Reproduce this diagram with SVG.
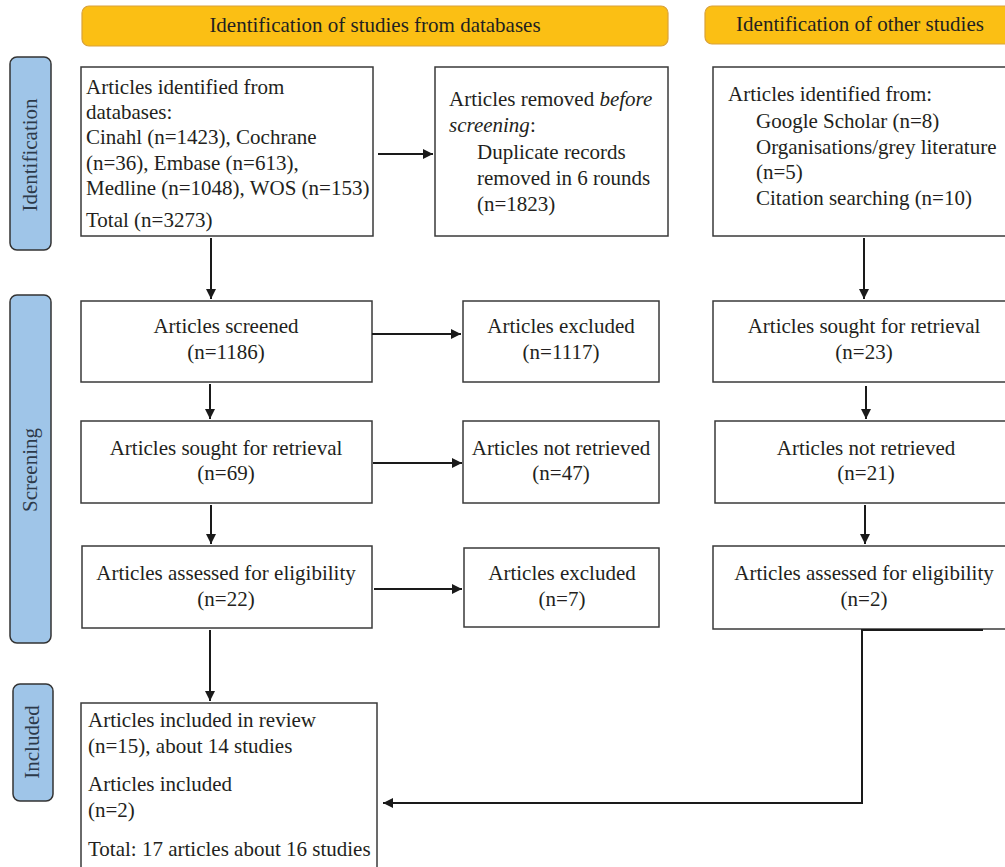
<svg xmlns="http://www.w3.org/2000/svg" width="1005" height="867" viewBox="0 0 1005 867">
<defs>
<marker id="ah" viewBox="0 0 10 10" refX="10" refY="5" markerWidth="10" markerHeight="10" markerUnits="userSpaceOnUse" orient="auto">
<path d="M0,0 L10,5 L0,10 z" fill="#1a1a1a"/>
</marker>
<style>
text{font-family:"Liberation Serif","Times New Roman",serif;font-size:21px;fill:#231f20}
.box{fill:#fff;stroke:#3a3a3a;stroke-width:1.5}
.hdr{fill:#fbbf14;stroke:#d9a23a;stroke-width:1.2}
.side{fill:#9fc5e8;stroke:#333;stroke-width:1.5}
.st{fill:#2d3a4a;text-anchor:middle}
.c{text-anchor:middle}
.conn{stroke:#1a1a1a;stroke-width:2;fill:none}
</style>
</defs>
<g id="hdr-db"><rect class="hdr" x="82" y="6" width="586" height="40" rx="7"/><text class="c" x="375" y="32">Identification of studies from databases</text></g>
<g id="hdr-other"><rect class="hdr" x="705" y="6" width="310" height="38" rx="7"/><text class="c" x="860" y="31">Identification of other studies</text></g>
<g id="side-id"><rect class="side" x="10" y="57" width="41" height="193" rx="7"/><text class="st" transform="translate(37,155) rotate(-90)">Identification</text></g>
<g id="side-scr"><rect class="side" x="10" y="295" width="41" height="348" rx="7"/><text class="st" transform="translate(37,470) rotate(-90)">Screening</text></g>
<g id="side-inc"><rect class="side" x="13" y="684" width="40" height="117" rx="7"/><text class="st" transform="translate(39,742) rotate(-90)">Included</text></g>

<g id="n-db"><rect class="box" x="81" y="67" width="292" height="169"/>
<text x="86" y="94">Articles identified from</text>
<text x="86" y="119">databases:</text>
<text x="86" y="144">Cinahl (n=1423), Cochrane</text>
<text x="86" y="170">(n=36), Embase (n=613),</text>
<text x="86" y="195">Medline (n=1048), WOS (n=153)</text>
<text x="86" y="227">Total (n=3273)</text></g>
<g id="n-removed"><rect class="box" x="435" y="67" width="233" height="169"/>
<text x="449" y="106">Articles removed <tspan font-style="italic">before</tspan></text>
<text x="449" y="132"><tspan font-style="italic">screening</tspan>:</text>
<text x="477" y="159">Duplicate records</text>
<text x="477" y="185">removed in 6 rounds</text>
<text x="477" y="211">(n=1823)</text></g>
<g id="n-other"><rect class="box" x="713" y="67" width="300" height="169"/>
<text x="728" y="101">Articles identified from:</text>
<text x="756" y="128">Google Scholar (n=8)</text>
<text x="756" y="154">Organisations/grey literature</text>
<text x="756" y="179">(n=5)</text>
<text x="756" y="205">Citation searching (n=10)</text></g>

<g id="n-screened"><rect class="box" x="81" y="301" width="291" height="81"/><text class="c" x="226" y="333">Articles screened</text><text class="c" x="226" y="359">(n=1186)</text></g>
<g id="n-excl1"><rect class="box" x="463" y="301" width="196" height="81"/><text class="c" x="561" y="333">Articles excluded</text><text class="c" x="561" y="359">(n=1117)</text></g>
<g id="n-sought2"><rect class="box" x="713" y="301" width="300" height="81"/><text class="c" x="864" y="333">Articles sought for retrieval</text><text class="c" x="864" y="359">(n=23)</text></g>

<g id="n-sought1"><rect class="box" x="81" y="421" width="291" height="82"/><text class="c" x="226" y="455">Articles sought for retrieval</text><text class="c" x="226" y="480">(n=69)</text></g>
<g id="n-notret1"><rect class="box" x="463" y="421" width="196" height="82"/><text class="c" x="561" y="455">Articles not retrieved</text><text class="c" x="561" y="480">(n=47)</text></g>
<g id="n-notret2"><rect class="box" x="715" y="421" width="298" height="82"/><text class="c" x="866" y="455">Articles not retrieved</text><text class="c" x="866" y="480">(n=21)</text></g>

<g id="n-elig1"><rect class="box" x="82" y="546" width="290" height="82"/><text class="c" x="226" y="580">Articles assessed for eligibility</text><text class="c" x="226" y="606">(n=22)</text></g>
<g id="n-excl2"><rect class="box" x="464" y="548" width="195" height="79"/><text class="c" x="562" y="580">Articles excluded</text><text class="c" x="562" y="606">(n=7)</text></g>
<g id="n-elig2"><rect class="box" x="713" y="546" width="300" height="83"/><text class="c" x="864" y="580">Articles assessed for eligibility</text><text class="c" x="864" y="606">(n=2)</text></g>

<g id="n-included"><rect class="box" x="81" y="703" width="296" height="170"/>
<text x="88" y="727">Articles included in review</text>
<text x="88" y="753">(n=15), about 14 studies</text>
<text x="88" y="791">Articles included</text>
<text x="88" y="817">(n=2)</text>
<text x="88" y="856">Total: 17 articles about 16 studies</text></g>

<g id="connectors" class="conn">
<line x1="378" y1="154" x2="433" y2="154" marker-end="url(#ah)"/>
<line x1="211" y1="238" x2="211" y2="299" marker-end="url(#ah)"/>
<line x1="864" y1="238" x2="864" y2="299" marker-end="url(#ah)"/>
<line x1="372" y1="334" x2="461" y2="334" marker-end="url(#ah)"/>
<line x1="210" y1="384" x2="210" y2="419" marker-end="url(#ah)"/>
<line x1="866" y1="386" x2="866" y2="419" marker-end="url(#ah)"/>
<line x1="373" y1="463" x2="462" y2="463" marker-end="url(#ah)"/>
<line x1="211" y1="505" x2="211" y2="544" marker-end="url(#ah)"/>
<line x1="865" y1="505" x2="865" y2="544" marker-end="url(#ah)"/>
<line x1="374" y1="589" x2="462" y2="589" marker-end="url(#ah)"/>
<line x1="210" y1="630" x2="210" y2="701" marker-end="url(#ah)"/>
<polyline points="983,630 862,630 862,803 383,803" marker-end="url(#ah)"/>
</g>
</svg>
